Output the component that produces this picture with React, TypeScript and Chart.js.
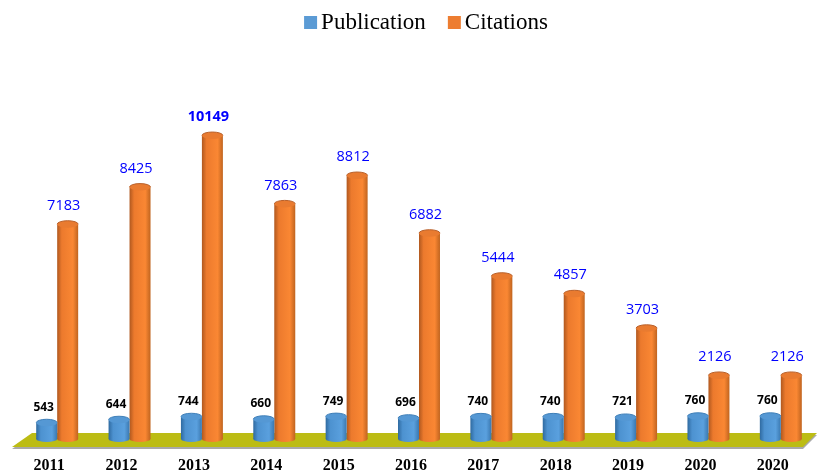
import React, { useEffect, useRef } from "react";
import { Chart, registerables } from "chart.js";

Chart.register(...registerables);

const years = ["2011", "2012", "2013", "2014", "2015", "2016", "2017", "2018", "2019", "2020", "2020"];
const publication = [543, 644, 744, 660, 749, 696, 740, 740, 721, 760, 760];
const citations = [7183, 8425, 10149, 7863, 8812, 6882, 5444, 4857, 3703, 2126, 2126];
const seriesNames = ["Publication", "Citations"];
const BOLD_CITATION = 10149;
const Y_MAX = 13210;
const LEGEND_SHIFT = 7;

const legendColors = ["#5b9bd5", "#ed7d31"];
const blueStops = ["#2f6aa0", "#4d92d0", "#5aa0de", "#3a78b0"];
const orangeStops = ["#b0581f", "#ec7a2d", "#fa8733", "#c0641f"];
const blueCap = "#5598d4";
const orangeCap = "#e97b30";
const CATEGORY_PCT = 0.58;

const barFill = (stops: string[], side: number) => (ctx: any) => {
  const chart = ctx.chart;
  const xScale = chart.scales.x;
  if (!xScale || ctx.dataIndex === undefined || !chart.chartArea) return stops[1];
  const step = xScale.width / years.length;
  const w = (step * CATEGORY_PCT) / 2;
  const c = xScale.getPixelForValue(ctx.dataIndex);
  const left = side < 0 ? c - w : c;
  const g = chart.ctx.createLinearGradient(left, 0, left + w, 0);
  g.addColorStop(0, stops[0]);
  g.addColorStop(0.22, stops[1]);
  g.addColorStop(0.75, stops[2]);
  g.addColorStop(1, stops[3]);
  return g;
};

const floorPlugin = {
  id: "floor",
  beforeDatasetsDraw(chart: any) {
    const { ctx, chartArea, scales } = chart;
    const base = scales.y.getPixelForValue(0);
    const l = chartArea.left;
    const r = chartArea.right;
    const shape = (dy: number, color: string) => {
      ctx.beginPath();
      ctx.moveTo(l - 9, base + 8 + dy);
      ctx.lineTo(l + 11, base - 6 + dy);
      ctx.lineTo(r, base - 6 + dy);
      ctx.lineTo(r - 14, base + 8 + dy);
      ctx.closePath();
      ctx.fillStyle = color;
      ctx.fill();
    };
    ctx.save();
    shape(2, "#a9a9a9");
    shape(0, "#bcbc14");
    ctx.restore();
  },
};

const capsPlugin = {
  id: "caps",
  afterDatasetsDraw(chart: any) {
    const { ctx, scales } = chart;
    const base = scales.y.getPixelForValue(0);
    ctx.save();
    chart.data.datasets.forEach((ds: any, di: number) => {
      const meta = chart.getDatasetMeta(di);
      meta.data.forEach((bar: any, i: number) => {
        const half = bar.width / 2;
        const left = bar.x - half;
        const g = ctx.createLinearGradient(left, 0, left + bar.width, 0);
        const stops = di === 0 ? blueStops : orangeStops;
        g.addColorStop(0, stops[0]);
        g.addColorStop(0.22, stops[1]);
        g.addColorStop(0.75, stops[2]);
        g.addColorStop(1, stops[3]);
        ctx.fillStyle = g;
        ctx.beginPath();
        ctx.ellipse(bar.x, base, half, 3, 0, 0, Math.PI * 2);
        ctx.fill();
        ctx.fillStyle = di === 0 ? blueCap : orangeCap;
        ctx.beginPath();
        ctx.ellipse(bar.x, bar.y, half, 3.5, 0, 0, Math.PI * 2);
        ctx.fill();
        ctx.strokeStyle = di === 0 ? "#3f7fb8" : "#b8602a";
        ctx.lineWidth = 1;
        ctx.beginPath();
        ctx.ellipse(bar.x, bar.y, half, 3.5, 0, Math.PI, Math.PI * 2);
        ctx.stroke();
        const v = ds.data[i];
        ctx.textAlign = "center";
        ctx.textBaseline = "middle";
        if (di === 0) {
          ctx.fillStyle = "#000000";
          ctx.font = "bold 12px 'Open Sans'";
          ctx.fillText(String(v), bar.x - 3, bar.y - 15.5);
        } else {
          ctx.fillStyle = "#0000ff";
          ctx.font = (v === BOLD_CITATION ? "bold " : "") + "14.5px 'Open Sans'";
          ctx.fillText(String(v), bar.x - 4, bar.y - 18.5);
        }
      });
    });
    ctx.restore();
  },
};

const swatchPlugin = {
  id: "swatches",
  afterLayout(chart: any) {
    chart.legend.left += LEGEND_SHIFT;
    chart.legend.right += LEGEND_SHIFT;
  },
  afterDraw(chart: any) {
    const { ctx, legend } = chart;
    ctx.save();
    legend.legendHitBoxes.forEach((box: any, i: number) => {
      ctx.fillStyle = legendColors[i];
      ctx.fillRect(box.left, box.top + box.height / 2 - 6.5, 13, 13);
    });
    ctx.restore();
  },
};

export default function App() {
  const ref = useRef<HTMLCanvasElement>(null);
  useEffect(() => {
    document.body.style.margin = "0";
    const chart = new Chart(ref.current!, {
      type: "bar",
      data: {
        labels: years,
        datasets: [
          { label: seriesNames[0], data: publication, backgroundColor: barFill(blueStops, -1) },
          { label: seriesNames[1], data: citations, backgroundColor: barFill(orangeStops, 1) },
        ],
      },
      plugins: [floorPlugin, capsPlugin, swatchPlugin],
      options: {
        animation: false,
        responsive: false,
        layout: { padding: { left: 21, right: 0, top: -11, bottom: 0 } },
        datasets: { bar: { categoryPercentage: CATEGORY_PCT, barPercentage: 1 } },
        plugins: {
          tooltip: { enabled: false },
          legend: {
            position: "top",
            labels: {
              boxWidth: 5.5,
              boxHeight: 13,
              padding: 22,
              color: "#111111",
              font: { family: "'Liberation Serif'", size: 23 },
              generateLabels: () =>
                seriesNames.map((text, i) => ({
                  text,
                  fillStyle: "rgba(0,0,0,0)",
                  strokeStyle: "rgba(0,0,0,0)",
                  lineWidth: 0,
                  datasetIndex: i,
                })),
            },
          },
        },
        scales: {
          x: {
            grid: { display: false },
            border: { display: false },
            afterFit: (scale: any) => {
              scale.height = 32;
            },
            ticks: {
              autoSkip: false,
              maxRotation: 0,
              labelOffset: -8,
              padding: 9,
              color: "#000000",
              font: { family: "'Liberation Serif'", size: 16, weight: "bold" },
            },
          },
          y: { display: false, min: 0, max: Y_MAX },
        },
      },
    } as any);
    return () => chart.destroy();
  }, []);
  return <canvas ref={ref} width={817} height={471} style={{ display: "block" }} />;
}
